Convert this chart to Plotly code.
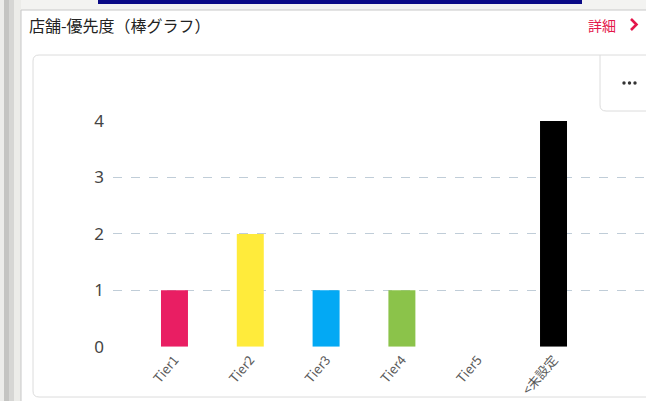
import plotly.graph_objects as go

categories = ["Tier1", "Tier2", "Tier3", "Tier4", "Tier5", "<未設定"]
values = [1, 2, 1, 1, 0, 4]
colors = ["#e91e63", "#ffeb3b", "#03a9f4", "#8bc34a", "#9c27b0", "#000000"]
y_ticks = [0, 1, 2, 3, 4]
grid_vals = [1, 2, 3]

W, H = 646, 401
def px(x):
    return x / W
def py(y):
    return 1 - y / H

fig = go.Figure()
fig.add_trace(go.Bar(
    x=categories, y=values, marker=dict(color=colors, line=dict(width=0)),
    width=0.356, hoverinfo="x+y", showlegend=False,
))

y_range = [0, 4.4]
y_dom = [(H - 346.7) / H, (H - (346.7 - 4.4 * 56.4)) / H]

fig.update_layout(
    width=W, height=H, autosize=False,
    margin=dict(l=0, r=0, t=0, b=0),
    paper_bgcolor="#f3f3f1",
    plot_bgcolor="rgba(0,0,0,0)",
    font=dict(family="Noto Sans CJK JP, Noto Sans, sans-serif"),
    xaxis=dict(
        domain=[113 / W, 1], range=[-0.811, 6.22], type="category",
        tickangle=-50, tickfont=dict(size=13, color="#5a5a5a"),
        showgrid=False, zeroline=False, showline=False, ticks="", automargin=False,
        ticklabelstandoff=2,
    ),
    yaxis=dict(
        domain=y_dom, range=y_range, tickvals=y_ticks,
        tickfont=dict(size=17, color="#444444", family="Noto Sans, sans-serif"),
        showgrid=False, zeroline=False, showline=False, ticks="",
        ticklabelstandoff=8, automargin=False,
    ),
    yaxis2=dict(
        domain=y_dom, range=y_range, overlaying="y", tickvals=grid_vals,
        showticklabels=False, showgrid=True, griddash="dash",
        gridcolor="#c0cdd8", gridwidth=1, zeroline=False, showline=False,
        automargin=False,
    ),
    bargap=0.64,
)
fig.add_trace(go.Scatter(x=[categories[0]], y=[0], yaxis="y2", mode="markers",
                         marker=dict(opacity=0), hoverinfo="skip", showlegend=False))

shapes = []
for x0, x1, c in [(0, 4, "#ececea"), (4, 9, "#c4c4c2"), (9, 14, "#d6d6d4"), (14, 21, "#ecece9")]:
    shapes.append(dict(type="rect", xref="paper", yref="paper", x0=px(x0), x1=px(x1),
                       y0=0, y1=1, fillcolor=c, line=dict(width=0), layer="below"))
shapes.append(dict(type="rect", xref="paper", yref="paper", x0=px(98), x1=px(582),
                   y0=py(4), y1=1, fillcolor="#0a0a86", line=dict(width=0), layer="below"))
shapes.append(dict(type="rect", xref="paper", yref="paper", x0=px(21), x1=px(650),
                   y0=py(405), y1=py(10), fillcolor="#ffffff",
                   line=dict(color="#c8c8c8", width=1), layer="below"))
r = 6
path = (f"M {px(660)},{py(55)} L {px(33 + r)},{py(55)} "
        f"Q {px(33)},{py(55)} {px(33)},{py(55 + r)} "
        f"L {px(33)},{py(397 - r)} Q {px(33)},{py(397)} {px(33 + r)},{py(397)} "
        f"L {px(660)},{py(397)}")
shapes.append(dict(type="path", xref="paper", yref="paper", path=path,
                   line=dict(color="#dcdcdc", width=1), layer="below"))
path2 = (f"M {px(600)},{py(55)} L {px(600)},{py(111 - r)} "
         f"Q {px(600)},{py(111)} {px(600 + r)},{py(111)} L {px(660)},{py(111)}")
shapes.append(dict(type="path", xref="paper", yref="paper", path=path2,
                   line=dict(color="#dcdcdc", width=1), layer="below"))
for cx in [624, 629.5, 635]:
    shapes.append(dict(type="circle", xref="paper", yref="paper",
                       x0=px(cx - 1.7), x1=px(cx + 1.7), y0=py(83 + 1.7), y1=py(83 - 1.7),
                       fillcolor="#333333", line=dict(width=0)))
shapes.append(dict(type="path", xref="paper", yref="paper",
                   path=f"M {px(631)},{py(19)} L {px(636.5)},{py(24.5)} L {px(631)},{py(30)}",
                   line=dict(color="#e4174b", width=2.6)))
fig.update_layout(shapes=shapes)

fig.add_annotation(text="店舗-優先度（棒グラフ）", xref="paper", yref="paper",
                   x=px(27), y=py(24.5), xanchor="left", yanchor="middle", showarrow=False,
                   font=dict(size=16, color="#222222", family="Noto Sans CJK JP"))
fig.add_annotation(text="詳細", xref="paper", yref="paper",
                   x=px(586), y=py(24.5), xanchor="left", yanchor="middle", showarrow=False,
                   font=dict(size=14, color="#e4174b", family="Noto Sans CJK JP"))

fig.write_html("out.html",
               config={"displayModeBar": False, "responsive": False},
               post_script="document.body.style.margin='0';document.body.style.overflow='hidden';")
